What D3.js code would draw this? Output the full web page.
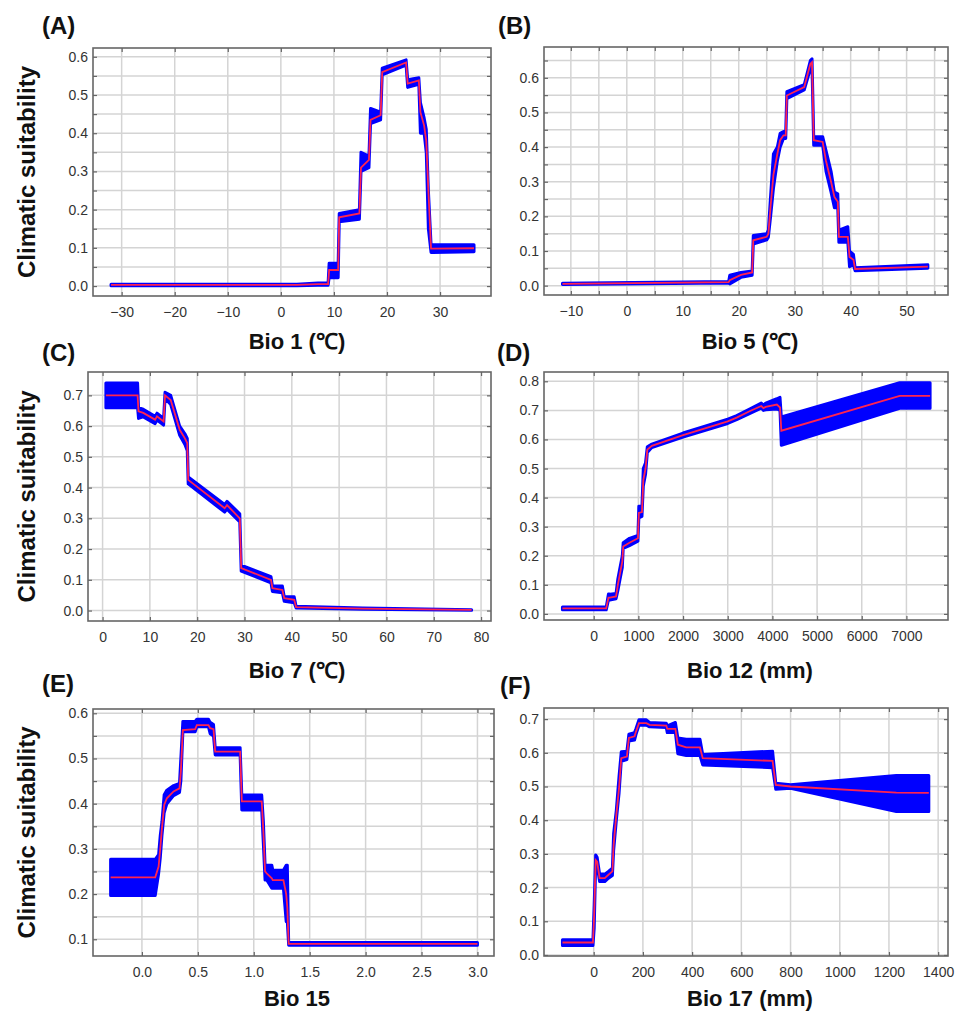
<!DOCTYPE html>
<html>
<head>
<meta charset="utf-8">
<script src="https://cdnjs.cloudflare.com/ajax/libs/d3/7.8.5/d3.min.js"></script>
<style>
  body { margin: 0; background: #fff; }
  text { font-family: "Liberation Sans", Arial, sans-serif; }
</style>
</head>
<body>
<svg id="fig" width="956" height="1013"></svg>
<script>
// ---------- (A) Bio 1 ----------
const bio1X    = [-32, 3, 7, 8.9, 9.1, 10.8, 11.0, 14.8, 15.1, 16.6, 16.9, 18.8, 19.1, 23.6, 23.9, 26.0, 26.3, 27.0, 27.4, 27.8, 28.3, 28.6, 36.4];
const bio1Mean = [0.003, 0.003, 0.005, 0.005, 0.042, 0.042, 0.18, 0.19, 0.31, 0.33, 0.435, 0.447, 0.56, 0.585, 0.53, 0.538, 0.455, 0.42, 0.38, 0.25, 0.098, 0.098, 0.099];
const bio1Lo   = [0.001, 0.001, 0.002, 0.002, 0.022, 0.022, 0.168, 0.175, 0.30, 0.31, 0.425, 0.435, 0.553, 0.578, 0.52, 0.528, 0.40, 0.40, 0.35, 0.15, 0.088, 0.088, 0.09];
const bio1Hi   = [0.005, 0.005, 0.008, 0.008, 0.06, 0.06, 0.19, 0.20, 0.35, 0.34, 0.465, 0.455, 0.57, 0.592, 0.54, 0.545, 0.48, 0.44, 0.41, 0.25, 0.11, 0.108, 0.108];
const bio1XDomain = [-35.4, 39.6];
const bio1YDomain = [-0.026, 0.623];
const bio1XTicks  = [-30, -20, -10, 0, 10, 20, 30];
const bio1YTicks  = [0, 0.1, 0.2, 0.3, 0.4, 0.5, 0.6];
const bio1YGrid   = [0, 0.05, 0.1, 0.15, 0.2, 0.25, 0.3, 0.35, 0.4, 0.45, 0.5, 0.55, 0.6];

// ---------- (B) Bio 5 ----------
const bio5X    = [-11.5, 18.2, 18.4, 20.4, 22.4, 22.6, 25.0, 25.3, 25.7, 26.2, 26.9, 27.4, 28.0, 28.4, 28.6, 31.7, 32.8, 33.1, 33.4, 35.0, 35.6, 36.5, 37.1, 37.7, 37.9, 39.5, 39.8, 40.5, 40.8, 53.8];
const bio5Mean = [0.005, 0.01, 0.016, 0.031, 0.038, 0.131, 0.141, 0.15, 0.23, 0.32, 0.38, 0.42, 0.434, 0.434, 0.549, 0.573, 0.64, 0.645, 0.42, 0.415, 0.36, 0.30, 0.256, 0.242, 0.141, 0.141, 0.083, 0.075, 0.048, 0.055];
const bio5Lo   = [0.003, 0.008, 0.005, 0.024, 0.03, 0.12, 0.132, 0.14, 0.20, 0.28, 0.36, 0.40, 0.425, 0.425, 0.54, 0.565, 0.625, 0.63, 0.405, 0.405, 0.33, 0.27, 0.225, 0.225, 0.125, 0.125, 0.055, 0.06, 0.043, 0.05];
const bio5Hi   = [0.007, 0.012, 0.03, 0.038, 0.042, 0.145, 0.15, 0.16, 0.26, 0.38, 0.40, 0.44, 0.445, 0.445, 0.56, 0.58, 0.65, 0.655, 0.43, 0.43, 0.39, 0.33, 0.27, 0.265, 0.16, 0.17, 0.10, 0.09, 0.052, 0.06];
const bio5XDomain = [-14.8, 57.4];
const bio5YDomain = [-0.027, 0.689];
const bio5XTicks  = [-10, 0, 10, 20, 30, 40, 50];
const bio5XGrid   = [-10, -5, 0, 5, 10, 15, 20, 25, 30, 35, 40, 45, 50, 55];
const bio5YTicks  = [0, 0.1, 0.2, 0.3, 0.4, 0.5, 0.6];
const bio5YGrid   = [0, 0.05, 0.1, 0.15, 0.2, 0.25, 0.3, 0.35, 0.4, 0.45, 0.5, 0.55, 0.6, 0.65];

// ---------- (C) Bio 7 ----------
const bio7X    = [0.7, 7.4, 7.6, 8.6, 11.1, 11.5, 12.9, 13.2, 14.4, 16.3, 17.4, 17.9, 18.1, 25.8, 26.3, 29.0, 29.3, 35.6, 35.9, 38.0, 38.4, 40.5, 40.9, 55, 78];
const bio7Mean = [0.70, 0.70, 0.648, 0.643, 0.621, 0.632, 0.615, 0.70, 0.685, 0.588, 0.56, 0.545, 0.425, 0.333, 0.343, 0.30, 0.138, 0.10, 0.073, 0.067, 0.04, 0.035, 0.011, 0.006, 0.002];
const bio7Lo   = [0.66, 0.66, 0.625, 0.63, 0.608, 0.62, 0.603, 0.69, 0.67, 0.57, 0.54, 0.52, 0.412, 0.32, 0.33, 0.288, 0.128, 0.09, 0.062, 0.058, 0.03, 0.025, 0.008, 0.004, 0.001];
const bio7Hi   = [0.74, 0.74, 0.66, 0.655, 0.632, 0.642, 0.625, 0.71, 0.70, 0.60, 0.575, 0.56, 0.435, 0.345, 0.355, 0.315, 0.148, 0.11, 0.08, 0.08, 0.045, 0.045, 0.014, 0.008, 0.003];
const bio7XDomain = [-3.08, 82.1];
const bio7YDomain = [-0.034, 0.776];
const bio7XTicks  = [0, 10, 20, 30, 40, 50, 60, 70, 80];
const bio7YTicks  = [0, 0.1, 0.2, 0.3, 0.4, 0.5, 0.6, 0.7];

// ---------- (D) Bio 12 ----------
const bio12X    = [-700, 280, 330, 360, 500, 540, 590, 640, 660, 800, 990, 1010, 1080, 1110, 1160, 1200, 1300, 2000, 3000, 3200, 3500, 3750, 3800, 3850, 4100, 4170, 4200, 6850, 7530];
const bio12Mean = [0.019, 0.019, 0.056, 0.056, 0.06, 0.10, 0.14, 0.18, 0.232, 0.245, 0.26, 0.347, 0.35, 0.46, 0.50, 0.565, 0.578, 0.615, 0.662, 0.675, 0.698, 0.715, 0.708, 0.712, 0.72, 0.71, 0.63, 0.75, 0.75];
const bio12Lo   = [0.014, 0.014, 0.048, 0.048, 0.052, 0.08, 0.12, 0.16, 0.225, 0.235, 0.25, 0.33, 0.335, 0.44, 0.48, 0.555, 0.572, 0.608, 0.655, 0.668, 0.69, 0.708, 0.70, 0.702, 0.705, 0.70, 0.58, 0.707, 0.707];
const bio12Hi   = [0.024, 0.024, 0.068, 0.068, 0.07, 0.12, 0.16, 0.20, 0.245, 0.26, 0.27, 0.37, 0.37, 0.50, 0.52, 0.575, 0.584, 0.622, 0.67, 0.682, 0.705, 0.725, 0.718, 0.725, 0.74, 0.745, 0.677, 0.795, 0.795];
const bio12XDomain = [-1113, 7931];
const bio12YDomain = [-0.021, 0.832];
const bio12XTicks  = [0, 1000, 2000, 3000, 4000, 5000, 6000, 7000];
const bio12YTicks  = [0, 0.1, 0.2, 0.3, 0.4, 0.5, 0.6, 0.7, 0.8];

// ---------- (E) Bio 15 ----------
const bio15X    = [-0.28, 0.119, 0.149, 0.164, 0.179, 0.199, 0.223, 0.283, 0.336, 0.348, 0.366, 0.476, 0.491, 0.595, 0.61, 0.64, 0.655, 0.878, 0.893, 1.071, 1.086, 1.101, 1.116, 1.161, 1.17, 1.265, 1.29, 1.30, 1.312, 3.0];
const bio15Mean = [0.237, 0.237, 0.261, 0.301, 0.346, 0.397, 0.412, 0.427, 0.434, 0.471, 0.563, 0.565, 0.574, 0.574, 0.567, 0.565, 0.515, 0.515, 0.405, 0.405, 0.338, 0.25, 0.246, 0.235, 0.231, 0.231, 0.2, 0.17, 0.09, 0.09];
const bio15Lo   = [0.197, 0.197, 0.245, 0.28, 0.33, 0.38, 0.40, 0.418, 0.425, 0.45, 0.559, 0.559, 0.57, 0.57, 0.555, 0.55, 0.508, 0.508, 0.386, 0.386, 0.31, 0.231, 0.231, 0.213, 0.213, 0.213, 0.139, 0.139, 0.087, 0.087];
const bio15Hi   = [0.277, 0.277, 0.287, 0.33, 0.36, 0.42, 0.43, 0.44, 0.445, 0.50, 0.582, 0.582, 0.587, 0.587, 0.58, 0.575, 0.524, 0.524, 0.419, 0.419, 0.36, 0.264, 0.264, 0.264, 0.253, 0.253, 0.264, 0.264, 0.093, 0.093];
const bio15XDomain = [-0.4375, 3.148];
const bio15YDomain = [0.063, 0.6095];
const bio15XTicks  = [0, 0.5, 1.0, 1.5, 2.0, 2.5, 3.0];
const bio15YTicks  = [0.1, 0.2, 0.3, 0.4, 0.5, 0.6];
const bio15YGrid   = [0.1, 0.15, 0.2, 0.25, 0.3, 0.35, 0.4, 0.45, 0.5, 0.55, 0.6];

// ---------- (F) Bio 17 ----------
const bio17X    = [-127, -3, 2, 8, 14, 24, 45, 60, 76, 81, 92, 103, 112, 135, 143, 166, 172, 184, 214, 227, 295, 299, 332, 342, 376, 432, 443, 727, 740, 800, 1230, 1362];
const bio17Mean = [0.037, 0.037, 0.12, 0.282, 0.277, 0.228, 0.228, 0.238, 0.248, 0.327, 0.416, 0.495, 0.584, 0.589, 0.644, 0.649, 0.663, 0.688, 0.688, 0.683, 0.681, 0.671, 0.671, 0.624, 0.616, 0.616, 0.584, 0.576, 0.505, 0.5, 0.482, 0.481];
const bio17Lo   = [0.028, 0.028, 0.08, 0.27, 0.265, 0.218, 0.218, 0.228, 0.236, 0.31, 0.40, 0.48, 0.575, 0.58, 0.635, 0.638, 0.655, 0.682, 0.682, 0.677, 0.675, 0.66, 0.66, 0.597, 0.592, 0.592, 0.564, 0.556, 0.492, 0.495, 0.426, 0.426];
const bio17Hi   = [0.045, 0.045, 0.15, 0.297, 0.29, 0.24, 0.24, 0.248, 0.258, 0.36, 0.43, 0.53, 0.603, 0.605, 0.655, 0.66, 0.672, 0.698, 0.698, 0.69, 0.688, 0.68, 0.69, 0.644, 0.64, 0.64, 0.595, 0.605, 0.51, 0.505, 0.533, 0.533];
const bio17XDomain = [-202, 1440];
const bio17YDomain = [-0.003, 0.733];
const bio17XTicks  = [0, 200, 400, 600, 800, 1000, 1200, 1400];
const bio17YTicks  = [0, 0.1, 0.2, 0.3, 0.4, 0.5, 0.6, 0.7];

// Panel layout (frame box in pixels, label and title positions)
let panels = [
  { tag: "(A)", title: "Bio 1 (℃)", x: bio1X, mean: bio1Mean, lo: bio1Lo, hi: bio1Hi,
    xDomain: bio1XDomain, yDomain: bio1YDomain, xTicks: bio1XTicks, xGrid: bio1XTicks, yTicks: bio1YTicks, yGrid: bio1YGrid,
    xFmt: d3.format("d"), box: {left: 93, top: 48, right: 491, bottom: 296}, tagPos: [42, 34], titlePos: [297, 349], yTitle: true },
  { tag: "(B)", title: "Bio 5 (℃)", x: bio5X, mean: bio5Mean, lo: bio5Lo, hi: bio5Hi,
    xDomain: bio5XDomain, yDomain: bio5YDomain, xTicks: bio5XTicks, xGrid: bio5XGrid, yTicks: bio5YTicks, yGrid: bio5YGrid,
    xFmt: d3.format("d"), box: {left: 544, top: 47, right: 948, bottom: 295}, tagPos: [498, 34], titlePos: [750, 349], yTitle: false },
  { tag: "(C)", title: "Bio 7 (℃)", x: bio7X, mean: bio7Mean, lo: bio7Lo, hi: bio7Hi,
    xDomain: bio7XDomain, yDomain: bio7YDomain, xTicks: bio7XTicks, xGrid: bio7XTicks, yTicks: bio7YTicks, yGrid: bio7YTicks,
    xFmt: d3.format("d"), box: {left: 88, top: 372, right: 491, bottom: 621}, tagPos: [42, 361], titlePos: [297, 678], yTitle: true },
  { tag: "(D)", title: "Bio 12 (mm)", x: bio12X, mean: bio12Mean, lo: bio12Lo, hi: bio12Hi,
    xDomain: bio12XDomain, yDomain: bio12YDomain, xTicks: bio12XTicks, xGrid: bio12XTicks, yTicks: bio12YTicks, yGrid: bio12YTicks,
    xFmt: d3.format("d"), box: {left: 544, top: 372, right: 948, bottom: 620}, tagPos: [497, 361], titlePos: [750, 678], yTitle: false },
  { tag: "(E)", title: "Bio 15", x: bio15X, mean: bio15Mean, lo: bio15Lo, hi: bio15Hi,
    xDomain: bio15XDomain, yDomain: bio15YDomain, xTicks: bio15XTicks, xGrid: bio15XTicks, yTicks: bio15YTicks, yGrid: bio15YGrid,
    xFmt: d3.format(".1f"), box: {left: 93, top: 709, right: 494, bottom: 956}, tagPos: [42, 692], titlePos: [297, 1006], yTitle: true },
  { tag: "(F)", title: "Bio 17 (mm)", x: bio17X, mean: bio17Mean, lo: bio17Lo, hi: bio17Hi,
    xDomain: bio17XDomain, yDomain: bio17YDomain, xTicks: bio17XTicks, xGrid: bio17XTicks, yTicks: bio17YTicks, yGrid: bio17YTicks,
    xFmt: d3.format("d"), box: {left: 544, top: 708, right: 948, bottom: 956}, tagPos: [500, 694], titlePos: [750, 1006], yTitle: false }
];

let svg = d3.select("#fig");
svg.append("rect").attr("width", 956).attr("height", 1013).attr("fill", "#fff");

function styleAxis(g, size) {
  g.select(".domain").remove();
  g.selectAll("text")
    .attr("font-family", "'Liberation Sans', Arial, sans-serif")
    .attr("font-size", size)
    .attr("fill", "#333");
}

function drawPanel(p) {
  let b = p.box;
  let x = d3.scaleLinear().domain(p.xDomain).range([b.left, b.right]);
  let y = d3.scaleLinear().domain(p.yDomain).range([b.bottom, b.top]);
  let g = svg.append("g");

  // Light grid
  g.selectAll(".vg").data(p.xGrid).enter().append("line")
    .attr("x1", d => x(d)).attr("x2", d => x(d))
    .attr("y1", b.top).attr("y2", b.bottom)
    .attr("stroke", "#d4d4d4").attr("stroke-width", 1.5);
  g.selectAll(".hg").data(p.yGrid).enter().append("line")
    .attr("x1", b.left).attr("x2", b.right)
    .attr("y1", d => y(d)).attr("y2", d => y(d))
    .attr("stroke", "#d4d4d4").attr("stroke-width", 1.5);

  // Response band and mean curve
  let rows = p.x.map((v, i) => ({x: v, m: p.mean[i], lo: p.lo[i], hi: p.hi[i]}));
  let band = d3.area().x(d => x(d.x)).y0(d => y(d.lo)).y1(d => y(d.hi));
  g.append("path").attr("d", band(rows))
    .attr("fill", "#0000ff").attr("stroke", "#0000ff")
    .attr("stroke-width", 3).attr("stroke-linejoin", "round");
  let line = d3.line().x(d => x(d.x)).y(d => y(d.m));
  g.append("path").attr("d", line(rows))
    .attr("fill", "none").attr("stroke", "#ff2350").attr("stroke-width", 1.8);

  // Inward tick marks on all four sides
  let tk = 4;
  let tb = g.append("g").attr("transform", `translate(0,${b.bottom})`)
    .call(d3.axisTop(x).tickValues(p.xGrid).tickSize(tk).tickFormat(""));
  let tt = g.append("g").attr("transform", `translate(0,${b.top})`)
    .call(d3.axisBottom(x).tickValues(p.xGrid).tickSize(tk).tickFormat(""));
  let tl = g.append("g").attr("transform", `translate(${b.left},0)`)
    .call(d3.axisRight(y).tickValues(p.yGrid).tickSize(tk).tickFormat(""));
  let tr = g.append("g").attr("transform", `translate(${b.right},0)`)
    .call(d3.axisLeft(y).tickValues(p.yGrid).tickSize(tk).tickFormat(""));
  [tb, tt, tl, tr].forEach(a => {
    a.select(".domain").remove();
    a.selectAll("line").attr("stroke", "#666").attr("stroke-width", 1.2);
  });

  // Frame
  g.append("rect")
    .attr("x", b.left).attr("y", b.top)
    .attr("width", b.right - b.left).attr("height", b.bottom - b.top)
    .attr("fill", "none").attr("stroke", "#666").attr("stroke-width", 1.6);

  // Tick labels
  let xa = g.append("g").attr("transform", `translate(0,${b.bottom})`)
    .call(d3.axisBottom(x).tickValues(p.xTicks).tickFormat(p.xFmt).tickSize(0).tickPadding(11));
  styleAxis(xa, 14);
  let ya = g.append("g").attr("transform", `translate(${b.left},0)`)
    .call(d3.axisLeft(y).tickValues(p.yTicks).tickFormat(d3.format(".1f")).tickSize(0).tickPadding(5));
  styleAxis(ya, 14);

  // Panel tag, axis title
  svg.append("text").attr("x", p.tagPos[0]).attr("y", p.tagPos[1])
    .attr("font-size", 24).attr("font-weight", "bold").attr("fill", "#111").text(p.tag);
  svg.append("text").attr("x", p.titlePos[0]).attr("y", p.titlePos[1])
    .attr("text-anchor", "middle").attr("font-size", 22).attr("font-weight", "bold").attr("fill", "#111")
    .text(p.title);
  if (p.yTitle) {
    let cy = (b.top + b.bottom) / 2;
    svg.append("text").attr("transform", `translate(35,${cy}) rotate(-90)`)
      .attr("text-anchor", "middle").attr("font-size", 24).attr("font-weight", "bold").attr("fill", "#111")
      .text("Climatic suitability");
  }
}

panels.forEach(drawPanel);
</script>
</body>
</html>
